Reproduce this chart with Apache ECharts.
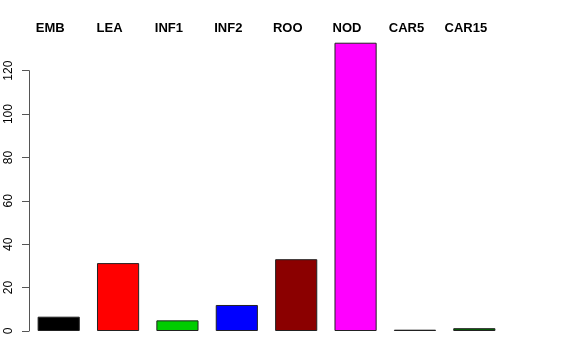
<!DOCTYPE html>
<html>
<head>
<meta charset="utf-8">
<script src="https://cdn.jsdelivr.net/npm/echarts@6/dist/echarts.min.js"></script>
<style>html,body{margin:0;padding:0;background:#fff}#c{width:576px;height:360px}</style>
</head>
<body>
<div id="c"></div>
<script>
const categories = ['EMB', 'LEA', 'INF1', 'INF2', 'ROO', 'NOD', 'CAR5', 'CAR15'];
const values = [6.6, 31.3, 4.9, 12.0, 33.1, 132.9, 0.6, 1.3];
const barColors = ['#000000', '#FF0000', '#00CD00', '#0000FF', '#8B0000', '#FF00FF', '#222222', '#006400'];
const yTicks = [0, 20, 40, 60, 80, 100, 120];

const chart = echarts.init(document.getElementById('c'), null, {renderer: 'canvas'});
chart.setOption({
  animation: false,
  backgroundColor: '#ffffff',
  grid: {left: 29, right: 72, top: 70.7, bottom: 29},
  xAxis: [
    {type: 'category', data: categories, show: false},
    {type: 'category', data: categories, position: 'top',
     axisLine: {show: false}, axisTick: {show: false},
     axisLabel: {margin: 36, fontFamily: 'Liberation Sans', fontWeight: 'bold', fontSize: 13,
       color: '#000', padding: [0, 17, 0, 0]}}
  ],
  yAxis: {
    type: 'value', min: yTicks[0], max: yTicks[yTicks.length - 1], interval: 20,
    splitLine: {show: false},
    axisLine: {show: true, lineStyle: {color: '#555', width: 1}},
    axisTick: {show: true, length: 7, lineStyle: {color: '#555'}},
    axisLabel: {rotate: 90, margin: 14, fontFamily: 'Liberation Sans', fontSize: 12, color: '#000'}
  },
  series: [{
    type: 'bar', xAxisIndex: 0, clip: false, barWidth: '71%',
    data: values.map((v, i) => ({value: v, itemStyle: {color: barColors[i]}})),
    itemStyle: {borderColor: '#222', borderWidth: 1}
  }]
});
</script>
</body>
</html>
